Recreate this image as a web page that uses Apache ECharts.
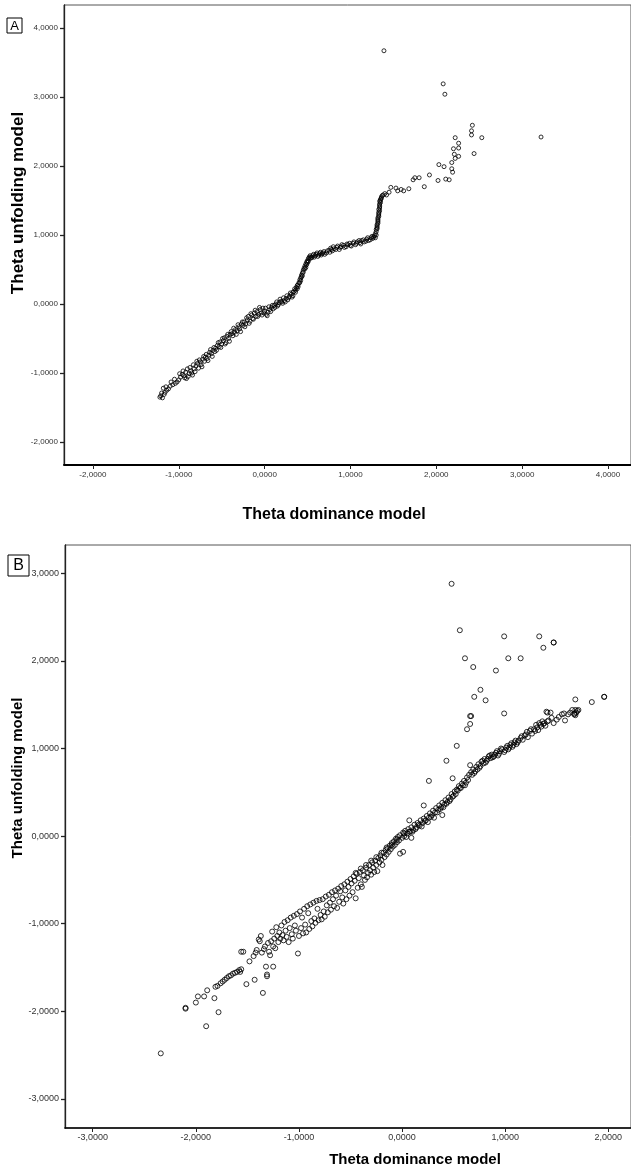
<!DOCTYPE html>
<html>
<head>
<meta charset="utf-8">
<script src="https://cdn.jsdelivr.net/npm/echarts@6/dist/echarts.min.js"></script>
<style>
html,body{margin:0;padding:0;background:#fff;}
#chart{width:631px;height:1170px;}
</style>
</head>
<body>
<div id="chart"></div>
<script>
// ---- Data ----
const xTicksA = [-2, -1, 0, 1, 2, 3, 4];
const yTicksA = [-2, -1, 0, 1, 2, 3, 4];
const xTicksB = [-3, -2, -1, 0, 1, 2];
const yTicksB = [-3, -2, -1, 0, 1, 2, 3];

const panelLabels = ['A', 'B'];
const xTitle = 'Theta dominance model';
const yTitle = 'Theta unfolding model';

// Panel A: [theta dominance, theta unfolding]
const pointsA = [
[-1.22,-1.35],[-1.21,-1.33],[-1.19,-1.36],[-1.18,-1.22],[-1.17,-1.31],[-1.16,-1.28],[-1.14,-1.25],[-1.12,-1.23],[-1.10,-1.19],[-1.07,-1.17],
[-1.04,-1.15],[-1.00,-1.10],[-0.98,-1.06],[-0.96,-1.02],[-0.94,-1.04],[-0.92,-0.99],[-0.91,-1.08],[-0.89,-1.05],[-0.88,-1.01],[-0.86,-0.97],
[-0.84,-1.03],[-0.82,-0.94],[-0.80,-0.90],[-0.78,-0.86],[-0.77,-0.93],[-0.75,-0.84],[-0.74,-0.88],[-0.72,-0.80],[-0.70,-0.83],[-0.69,-0.77],
[-0.67,-0.79],[-0.65,-0.74],[-0.64,-0.70],[-0.62,-0.72],[-0.60,-0.67],[-0.58,-0.69],[-0.57,-0.64],[-0.55,-0.60],[-0.53,-0.62],[-0.52,-0.55],
[-0.50,-0.58],[-0.48,-0.53],[-0.47,-0.49],[-0.45,-0.56],[-0.44,-0.47],[-0.42,-0.50],[-0.40,-0.44],[-0.39,-0.40],[-0.37,-0.46],[-0.35,-0.41],
[-0.34,-0.37],[-0.32,-0.39],[-0.30,-0.33],[-0.29,-0.36],[-0.27,-0.29],[-0.25,-0.31],[-0.24,-0.26],[-0.22,-0.29],[-0.20,-0.23],[-0.19,-0.18],
[-0.17,-0.25],[-0.15,-0.16],[-0.14,-0.21],[-0.12,-0.13],[-0.10,-0.18],[-0.09,-0.11],[-0.07,-0.15],[-0.05,-0.08],[-0.04,-0.13],[-0.02,-0.06],
[0.00,-0.10],[0.02,-0.15],[0.04,-0.12],[0.06,-0.08],[0.08,-0.05],[0.10,-0.07],[0.11,-0.02],[0.13,0.00],[0.15,-0.03],[0.17,0.02],
[0.19,0.04],[0.21,0.01],[0.23,0.05],[0.25,0.08],[0.27,0.06],[0.29,0.11],[0.31,0.14],[0.33,0.12],[0.34,0.18],
[0.36,0.20],[0.37,0.24],[0.38,0.22],[0.39,0.28],[0.40,0.31],[0.41,0.35],[0.42,0.38],[0.43,0.42],[0.44,0.45],[0.45,0.49],
[0.46,0.52],[0.47,0.55],[0.48,0.58],[0.49,0.61],[0.50,0.63],[0.51,0.66],[0.52,0.68],[0.53,0.70],
[0.55,0.67],[0.57,0.72],[0.59,0.70],[0.61,0.74],[0.63,0.71],[0.65,0.75],[0.67,0.73],[0.69,0.76],[0.72,0.74],[0.75,0.78],
[0.77,0.81],[0.79,0.77],[0.81,0.80],[0.84,0.82],[0.87,0.79],[0.89,0.83],[0.92,0.85],[0.95,0.83],[0.97,0.86],[1.00,0.85],
[1.03,0.88],[1.06,0.86],[1.08,0.90],[1.11,0.89],[1.13,0.92],[1.16,0.90],[1.19,0.94],[1.21,0.92],[1.24,0.96],[1.26,0.95],[1.28,0.99],
[1.29,1.02],[1.30,1.05],[1.31,1.09],[1.31,1.13],[1.32,1.17],[1.32,1.21],[1.32,1.25],[1.33,1.29],[1.33,1.33],[1.33,1.37],
[1.34,1.41],[1.34,1.45],[1.34,1.49],[1.35,1.52],[1.36,1.55],[1.38,1.58],
[1.40,1.60],[1.42,1.58],[1.45,1.62],[1.47,1.69],[1.53,1.68],[1.55,1.64],[1.59,1.66],[1.62,1.64],[1.68,1.67],[1.73,1.80],
[1.75,1.83],[1.80,1.83],[1.86,1.70],[1.92,1.87],[2.02,1.79],[2.03,2.02],[2.09,1.99],[2.11,1.81],[2.15,1.80],[2.18,1.96],
[2.19,1.91],[2.18,2.05],[2.20,2.25],[2.21,2.17],[2.22,2.11],[2.22,2.41],[2.26,2.26],[2.26,2.33],[2.26,2.14],[2.41,2.45],
[2.41,2.51],[2.42,2.59],[2.44,2.18],[2.53,2.41],[3.22,2.42],[2.08,3.19],[2.10,3.04],[1.39,3.67],
[-1.20,-1.29],[-1.15,-1.20],[-1.09,-1.13],[-1.05,-1.09],[-1.02,-1.13],[-0.99,-1.01],[-0.95,-0.97],[-0.93,-1.07],[-0.90,-0.94],[-0.87,-0.92],
[-0.85,-1.00],[-0.83,-0.88],[-0.81,-0.98],[-0.79,-0.83],[-0.76,-0.81],[-0.73,-0.91],[-0.71,-0.76],[-0.68,-0.73],[-0.66,-0.82],[-0.63,-0.66],
[-0.61,-0.76],[-0.59,-0.63],[-0.56,-0.67],[-0.54,-0.56],[-0.51,-0.63],[-0.49,-0.50],[-0.46,-0.58],[-0.43,-0.44],[-0.41,-0.54],[-0.38,-0.43],
[-0.36,-0.35],[-0.33,-0.44],[-0.31,-0.30],[-0.28,-0.40],[-0.26,-0.26],[-0.23,-0.33],[-0.21,-0.20],[-0.18,-0.28],[-0.16,-0.14],[-0.13,-0.22],
[-0.11,-0.09],[-0.08,-0.18],[-0.06,-0.05],[-0.03,-0.16],[-0.01,-0.13],[0.01,-0.06],[0.03,-0.17],[0.05,-0.04],[0.07,-0.11],[0.09,-0.02],
[0.12,-0.05],[0.14,0.03],[0.16,-0.01],[0.18,0.07],[0.20,0.03],[0.22,0.09],[0.24,0.03],[0.26,0.12],[0.28,0.09],[0.30,0.16],
[0.32,0.10],[0.33,0.17],[0.35,0.22],[0.36,0.17],[0.38,0.27],[0.39,0.25],[0.41,0.31],[0.42,0.34],[0.43,0.39],[0.44,0.41],
[0.45,0.46],[0.47,0.51],[0.48,0.53],[0.49,0.57],[0.50,0.60],[0.51,0.62],[0.53,0.66],[0.54,0.68],[0.56,0.70],[0.58,0.68],
[0.60,0.72],[0.62,0.69],[0.64,0.73],[0.66,0.71],[0.68,0.74],[0.70,0.72],[0.73,0.77],[0.76,0.75],[0.78,0.79],[0.80,0.83],
[0.83,0.79],[0.85,0.84],[0.88,0.82],[0.90,0.86],[0.93,0.82],[0.96,0.87],[0.99,0.88],[1.01,0.84],[1.04,0.90],[1.07,0.88],
[1.10,0.92],[1.12,0.87],[1.15,0.93],[1.18,0.91],[1.20,0.96],[1.23,0.93],[1.25,0.98],[1.27,0.97],[1.29,0.96],[1.30,1.00],
[1.30,1.08],[1.31,1.11],[1.31,1.15],[1.32,1.19],[1.32,1.23],[1.33,1.27],[1.33,1.31],[1.34,1.35],[1.34,1.39],[1.34,1.43],
[1.35,1.47],[1.35,1.50],[1.36,1.53],[1.37,1.57]
];

// Panel B: [theta dominance, theta unfolding]
const pointsB = [
[-2.34,-2.48],[-2.10,-1.96],[-2.10,-1.97],[-2.00,-1.90],[-1.98,-1.83],[-1.92,-1.83],[-1.90,-2.17],[-1.89,-1.76],[-1.82,-1.85],[-1.78,-2.01],
[-1.81,-1.72],[-1.79,-1.71],[-1.76,-1.68],[-1.74,-1.66],[-1.72,-1.64],[-1.70,-1.62],[-1.68,-1.60],[-1.66,-1.59],[-1.64,-1.57],[-1.62,-1.56],
[-1.60,-1.55],[-1.58,-1.53],[-1.57,-1.55],[-1.56,-1.52],[-1.56,-1.32],[-1.54,-1.32],[-1.51,-1.69],[-1.48,-1.43],[-1.43,-1.64],[-1.44,-1.37],
[-1.42,-1.33],[-1.41,-1.30],[-1.39,-1.18],[-1.38,-1.20],[-1.37,-1.14],[-1.36,-1.33],[-1.35,-1.79],[-1.34,-1.29],[-1.33,-1.26],[-1.32,-1.49],
[-1.31,-1.58],[-1.31,-1.60],[-1.30,-1.22],[-1.29,-1.32],[-1.28,-1.36],[-1.27,-1.20],[-1.26,-1.09],[-1.25,-1.49],[-1.25,-1.26],[-1.24,-1.17],
[-1.23,-1.28],[-1.22,-1.04],[-1.21,-1.14],[-1.20,-1.21],[-1.19,-1.10],[-1.18,-1.17],[-1.17,-1.02],[-1.16,-1.13],[-1.15,-1.19],[-1.14,-0.98],
[-1.13,-1.08],[-1.12,-1.15],[-1.11,-0.96],[-1.10,-1.21],[-1.09,-1.05],[-1.08,-0.93],[-1.07,-1.12],[-1.06,-1.17],[-1.05,-0.91],[-1.04,-1.02],
[-1.03,-1.08],[-1.02,-0.89],[-1.01,-1.34],[-1.00,-1.14],[-0.99,-0.86],[-0.98,-1.05],[-0.97,-0.93],[-0.96,-1.11],[-0.95,-0.83],[-0.94,-1.01],
[-0.93,-1.10],[-0.92,-0.80],[-0.91,-0.88],[-0.90,-1.06],[-0.89,-0.78],[-0.88,-0.97],[-0.87,-1.03],[-0.86,-0.76],[-0.85,-0.94],[-0.84,-0.99],
[-0.83,-0.74],[-0.82,-0.83],[-0.81,-0.96],[-0.80,-0.73],[-0.79,-0.90],[-0.78,-0.95],[-0.77,-0.72],[-0.76,-0.86],[-0.75,-0.92],[-0.74,-0.69],
[-0.73,-0.79],[-0.72,-0.87],[-0.71,-0.67],[-0.70,-0.76],[-0.69,-0.84],[-0.68,-0.64],[-0.67,-0.72],[-0.66,-0.80],[-0.65,-0.62],[-0.64,-0.68],
[-0.63,-0.82],[-0.62,-0.60],[-0.61,-0.75],[-0.60,-0.63],[-0.59,-0.57],[-0.58,-0.70],[-0.57,-0.77],[-0.56,-0.55],[-0.55,-0.62],[-0.54,-0.72],
[-0.53,-0.52],[-0.52,-0.58],[-0.51,-0.68],[-0.50,-0.49],[-0.49,-0.54],[-0.48,-0.64],[-0.47,-0.46],[-0.46,-0.51],[-0.45,-0.71],[-0.44,-0.43],
[-0.43,-0.59],[-0.42,-0.48],[-0.41,-0.41],[-0.40,-0.55],[-0.39,-0.58],[-0.38,-0.39],[-0.37,-0.45],[-0.36,-0.50],[-0.35,-0.36],[-0.34,-0.47],
[-0.33,-0.42],[-0.32,-0.33],[-0.31,-0.39],[-0.30,-0.44],[-0.29,-0.30],[-0.28,-0.36],[-0.27,-0.41],[-0.26,-0.28],[-0.25,-0.33],[-0.24,-0.40],
[-0.23,-0.25],[-0.22,-0.30],[-0.21,-0.22],[-0.20,-0.27],[-0.19,-0.33],[-0.18,-0.19],[-0.17,-0.24],[-0.16,-0.16],[-0.15,-0.21],[-0.14,-0.14],
[-0.13,-0.18],[-0.12,-0.11],[-0.11,-0.15],[-0.10,-0.08],[-0.09,-0.12],[-0.08,-0.06],[-0.07,-0.10],[-0.06,-0.03],[-0.05,-0.07],[-0.04,-0.01],
[-0.03,-0.05],[-0.02,0.01],[-0.02,-0.20],[0.01,-0.18],[0.00,-0.02],[0.01,0.04],[0.02,0.00],[0.03,0.06],[0.05,0.03],[0.06,0.08],
[0.07,0.18],[0.08,0.05],[0.09,-0.02],[0.09,0.10],[0.11,0.07],[0.12,0.13],[0.14,0.10],[0.15,0.15],[0.17,0.12],[0.18,0.18],
[0.20,0.15],[0.21,0.35],[0.21,0.20],[0.23,0.18],[0.24,0.23],[0.26,0.21],[0.26,0.63],[0.27,0.26],[0.29,0.24],[0.30,0.29],
[0.32,0.27],[0.33,0.32],[0.35,0.30],[0.36,0.35],[0.38,0.33],[0.39,0.24],[0.39,0.38],[0.41,0.36],[0.42,0.41],[0.43,0.86],
[0.44,0.39],[0.45,0.44],[0.47,0.42],[0.48,0.48],[0.48,2.88],[0.49,0.66],[0.50,0.46],[0.51,0.51],[0.53,0.53],[0.53,1.03],
[0.55,0.57],[0.56,2.35],[0.56,0.55],[0.58,0.60],[0.60,0.63],[0.61,2.03],[0.61,0.58],[0.63,0.67],[0.63,1.22],[0.65,0.70],
[0.66,0.81],[0.66,1.28],[0.66,1.37],[0.67,1.37],[0.67,0.73],[0.69,1.93],[0.70,1.59],[0.69,0.76],[0.71,0.74],[0.72,0.79],
[0.74,0.82],[0.75,0.78],[0.76,1.67],[0.77,0.85],[0.79,0.83],[0.80,0.88],[0.81,1.55],[0.82,0.86],[0.84,0.91],[0.86,0.89],
[0.87,0.93],[0.89,0.91],[0.91,1.89],[0.91,0.95],[0.93,0.92],[0.95,0.97],[0.97,0.99],[0.99,1.40],[0.99,2.28],[0.99,0.96],
[1.01,1.01],[1.03,2.03],[1.03,0.99],[1.05,1.04],[1.07,1.02],[1.09,1.07],[1.11,1.05],[1.13,1.09],[1.15,2.03],[1.15,1.12],
[1.17,1.10],[1.19,1.15],[1.21,1.19],[1.22,1.13],[1.24,1.20],[1.26,1.17],[1.28,1.22],[1.30,1.27],[1.32,1.21],[1.33,1.29],
[1.33,2.28],[1.35,1.25],[1.37,2.15],[1.37,1.28],[1.39,1.26],[1.41,1.41],[1.41,1.31],[1.44,1.41],[1.47,1.29],[1.47,2.21],
[1.47,2.21],[1.50,1.33],[1.55,1.39],[1.58,1.32],[1.61,1.39],[1.65,1.44],[1.68,1.44],[1.68,1.56],[1.68,1.38],[1.69,1.41],
[1.71,1.44],[1.84,1.53],[1.96,1.59],[1.96,1.59],
[-0.45,-0.42],[-0.40,-0.37],[-0.35,-0.33],[-0.30,-0.28],[-0.25,-0.24],[-0.20,-0.19],[-0.15,-0.13],[-0.10,-0.10],[-0.05,-0.04],[0.02,0.03],
[0.04,-0.01],[0.07,0.05],[0.10,0.05],[0.13,0.08],[0.16,0.13],[0.19,0.11],[0.22,0.17],[0.25,0.16],[0.28,0.22],[0.31,0.21],
[0.34,0.27],[0.37,0.31],[0.40,0.33],[0.43,0.37],[0.46,0.40],[0.49,0.45],[0.52,0.48],[0.54,0.52],[0.57,0.55],[0.59,0.58],
[0.62,0.61],[0.64,0.64],[0.68,0.70],[0.70,0.72],[0.73,0.76],[0.76,0.80],[0.78,0.86],[0.81,0.84],[0.83,0.88],[0.85,0.92],
[0.88,0.90],[0.90,0.93],[0.92,0.97],[0.94,0.94],[0.96,1.00],[1.00,0.98],[1.02,1.03],[1.04,1.01],[1.06,1.06],[1.08,1.04],
[1.10,1.09],[1.12,1.07],[1.16,1.14],[1.20,1.16],[1.25,1.22],[1.29,1.20],[1.31,1.24],[1.34,1.27],[1.36,1.31],[1.38,1.29],
[1.40,1.42],[1.42,1.32],[1.45,1.35],[1.52,1.36],[1.57,1.40],[1.63,1.41],[1.67,1.40],[1.70,1.43],[1.67,1.39]
];

// ---- Chart ----
const FONT = '"Liberation Sans", Arial, sans-serif';
const fmt = v => (v < 0 ? '-' : '') + Math.abs(v).toFixed(4).replace('.', ',');

function xAxisCfg(grid, min, max, ticks, fs, lw, margin) {
  return {
    gridIndex: grid, type: 'value', min: min, max: max,
    axisLine: { show: true, onZero: false, lineStyle: { color: '#000', width: lw } },
    axisTick: { show: true, customValues: ticks, length: 4, lineStyle: { color: '#222', width: 1 } },
    axisLabel: { customValues: ticks, formatter: fmt, fontSize: fs, color: '#333', margin: margin, fontFamily: FONT },
    splitLine: { show: false }
  };
}
function yAxisCfg(grid, min, max, ticks, fs, margin) {
  return {
    gridIndex: grid, type: 'value', min: min, max: max,
    axisLine: { show: true, onZero: false, lineStyle: { color: '#222', width: 1.3 } },
    axisTick: { show: true, customValues: ticks, length: 4, lineStyle: { color: '#222', width: 1.3 } },
    axisLabel: { customValues: ticks, formatter: fmt, fontSize: fs, color: '#333', margin: margin, fontFamily: FONT },
    splitLine: { show: false }
  };
}
function titleText(x, y, text, size, rot) {
  return {
    type: 'text', x: x, y: y, rotation: rot || 0,
    style: { text: text, fill: '#000', font: 'bold ' + size + 'px ' + FONT,
      align: 'center', verticalAlign: 'middle', textAlign: 'center', textVerticalAlign: 'middle' }
  };
}
function boxLabel(x, y, s, text, size) {
  return [
    { type: 'rect', shape: { x: x, y: y, width: s, height: s }, style: { fill: '#fff', stroke: '#000', lineWidth: 1 } },
    { type: 'text', x: x + s / 2, y: y + s / 2 + 0.5,
      style: { text: text, fill: '#000', font: size + 'px ' + FONT,
        align: 'center', verticalAlign: 'middle', textAlign: 'center', textVerticalAlign: 'middle' } }
  ];
}

const chart = echarts.init(document.getElementById('chart'), null, { renderer: 'canvas' });
chart.setOption({
  animation: false,
  backgroundColor: '#fff',
  grid: [
    { left: 64, top: 5, width: 568, height: 460, show: true, borderColor: '#555', borderWidth: 1 },
    { left: 65, top: 545, width: 567, height: 583, show: true, borderColor: '#555', borderWidth: 1 }
  ],
  xAxis: [
    xAxisCfg(0, -2.337, 4.268, xTicksA, 8, 2, 6),
    xAxisCfg(1, -3.269, 2.220, xTicksB, 9, 1.7, 5)
  ],
  yAxis: [
    yAxisCfg(0, -2.333, 4.333, yTicksA, 8, 6),
    yAxisCfg(1, -3.332, 3.323, yTicksB, 9, 6)
  ],
  series: [
    { type: 'scatter', xAxisIndex: 0, yAxisIndex: 0, data: pointsA, symbol: 'circle', symbolSize: 4,
      itemStyle: { color: 'rgba(0,0,0,0)', borderColor: '#000', borderWidth: 1 } },
    { type: 'scatter', xAxisIndex: 1, yAxisIndex: 1, data: pointsB, symbol: 'circle', symbolSize: 5,
      itemStyle: { color: 'rgba(0,0,0,0)', borderColor: '#000', borderWidth: 1 } }
  ],
  graphic: [].concat(
    boxLabel(7, 18, 15, panelLabels[0], 13),
    boxLabel(8, 555, 21, panelLabels[1], 16),
    [
      titleText(18, 203, yTitle, 17, Math.PI / 2),
      titleText(334, 515, xTitle, 16),
      titleText(18, 778, yTitle, 15, Math.PI / 2),
      titleText(415, 1160, xTitle, 15)
    ]
  )
});
</script>
</body>
</html>
